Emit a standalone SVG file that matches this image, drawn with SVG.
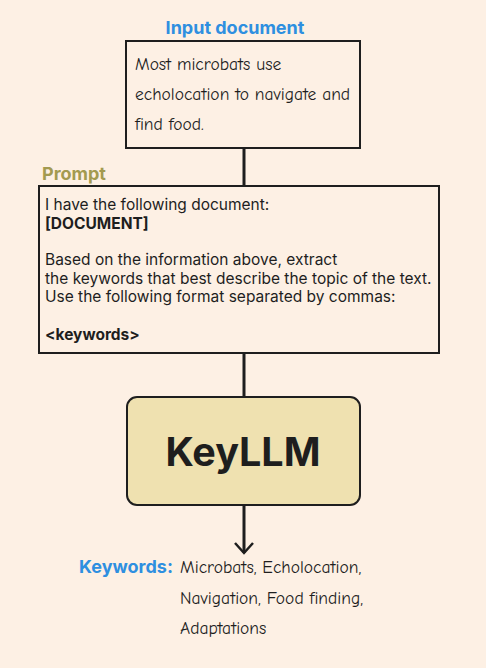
<svg xmlns="http://www.w3.org/2000/svg" width="486" height="668" viewBox="0 0 486 668">
<defs>
<style>
.bg{fill:#fdf0e4}
.box{fill:#fdf0e4;stroke:#1e1e1e;stroke-width:2}
.llm{fill:#efe1b0;stroke:#1e1e1e;stroke-width:2}
.hand{font-family:"Comic Neue","DejaVu Sans",sans-serif;font-size:17.5px;fill:#1e1e1e}
.body{font-family:Inter,"Liberation Sans",sans-serif;font-size:15.5px;fill:#1e1e1e}
.b{font-weight:700}
.title{font-family:Inter,"Liberation Sans",sans-serif;font-size:18px;font-weight:700}
.blue{fill:#2e8fe0}
.olive{fill:#a39a50}
.conn{stroke:#1e1e1e;stroke-width:3;fill:none}
</style>
<marker id="arr" viewBox="0 0 20 20" refX="18" refY="10" markerWidth="20" markerHeight="20" markerUnits="userSpaceOnUse" orient="auto">
<path d="M8 1 L18 10 L8 19" fill="none" stroke="#1e1e1e" stroke-width="2.5"/>
</marker>
</defs>
<rect class="bg" width="486" height="668"/>
<g id="connectors">
<line class="conn" x1="244" y1="148" x2="244" y2="186"/>
<line class="conn" x1="244" y1="353" x2="244" y2="397"/>
<path class="conn" d="M244 505 L244 553" marker-end="url(#arr)"/>
</g>
<g id="input-document">
<text class="title blue" x="235" y="34" text-anchor="middle">Input document</text>
<rect class="box" x="126" y="41" width="234" height="107"/>
<text class="hand" x="135" y="70">Most microbats use</text>
<text class="hand" x="135" y="100">echolocation to navigate and</text>
<text class="hand" x="135" y="130">find food.</text>
</g>
<g id="prompt">
<text class="title olive" x="42" y="180">Prompt</text>
<rect class="box" x="39" y="186" width="400" height="167"/>
<text class="body" x="45" y="210">I have the following document:</text>
<text class="body b" x="45" y="229">[DOCUMENT]</text>
<text class="body" x="45" y="265">Based on the information above, extract</text>
<text class="body" x="45" y="284">the keywords that best describe the topic of the text.</text>
<text class="body" x="45" y="302">Use the following format separated by commas:</text>
<text class="body b" x="45" y="340">&lt;keywords&gt;</text>
</g>
<g id="keyllm">
<rect class="llm" x="127" y="397" width="233" height="108" rx="10"/>
<text x="243" y="466" text-anchor="middle" font-family="Inter,'Liberation Sans',sans-serif" font-size="39.5" font-weight="700" fill="#1e1e1e">KeyLLM</text>
</g>
<g id="keywords">
<text class="title blue" x="79" y="573">Keywords:</text>
<text class="hand" x="180" y="573">Microbats, Echolocation,</text>
<text class="hand" x="180" y="604">Navigation, Food finding,</text>
<text class="hand" x="180" y="634">Adaptations</text>
</g>
</svg>
